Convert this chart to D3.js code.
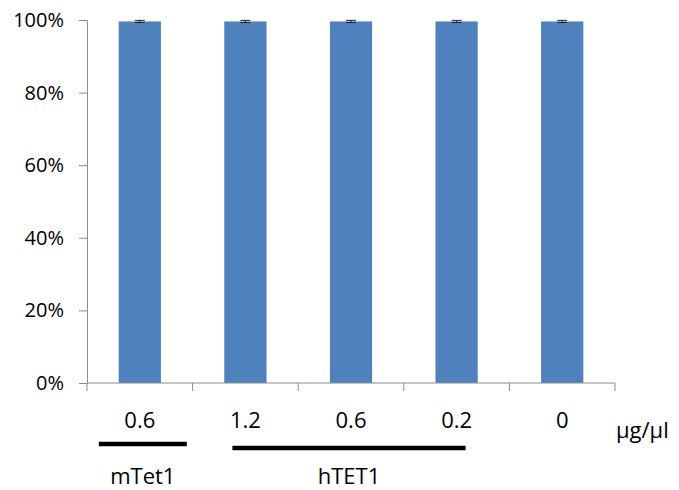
<!DOCTYPE html>
<html>
<head>
<meta charset="utf-8">
<script src="https://cdn.jsdelivr.net/npm/d3@7"></script>
<style>
  body { margin: 0; background: #fff; }
  text { font-family: "Open Sans", "DejaVu Sans", sans-serif; fill: #000; }
</style>
</head>
<body>
<svg id="chart" width="679" height="490"></svg>
<script>
// Dose per group (µg/µl) and the percentage measured for each
const categories = ["0.6", "1.2", "0.6 ", "0.2", "0"];
const values = [99.6, 99.6, 99.6, 99.6, 99.6];
const errors = [0.3, 0.3, 0.3, 0.3, 0.3];
const yTicks = [0, 20, 40, 60, 80, 100];
// Construct groups underlined beneath the axis (first/last category index)
const groups = [
  { name: "mTet1", from: 0, to: 0 },
  { name: "hTET1", from: 1, to: 3 }
];
const unitLabel = "µg/µl";

const svg = d3.select("#chart");
const plotLeft = 87, plotRight = 615, plotTop = 20, plotBottom = 383;

const x = d3.scaleBand().domain(categories).range([plotLeft, plotRight])
  .paddingInner(0.6).paddingOuter(0.3);
const y = d3.scaleLinear().domain([0, 100]).range([plotBottom, plotTop]);

// Bars
svg.append("g").selectAll("rect").data(values).join("rect")
  .attr("x", (d, i) => x(categories[i]))
  .attr("y", d => y(d))
  .attr("width", x.bandwidth())
  .attr("height", d => y(0) - y(d))
  .attr("fill", "#4F81BD");

// Error bars
const eb = svg.append("g").attr("stroke", "#222").attr("stroke-width", 1);
values.forEach((v, i) => {
  const cx = x(categories[i]) + x.bandwidth() / 2;
  eb.append("line").attr("x1", cx).attr("x2", cx).attr("y1", y(v + errors[i])).attr("y2", y(v - errors[i]));
  [v + errors[i], v - errors[i]].forEach(e => {
    eb.append("line").attr("x1", cx - 5).attr("x2", cx + 5).attr("y1", y(e)).attr("y2", y(e));
  });
});

// Y axis
const yAxis = svg.append("g").attr("transform", `translate(${plotLeft},0)`)
  .call(d3.axisLeft(y).tickValues(yTicks).tickSize(8).tickPadding(15).tickFormat(d => d + "%"));
yAxis.selectAll("path, line").attr("stroke", "#8c8c8c");
yAxis.selectAll("text").style("font-size", "20px").attr("fill", "#000");

// X axis: ticks sit on category boundaries
const xAxisG = svg.append("g");
xAxisG.append("line").attr("x1", plotLeft).attr("x2", plotRight).attr("y1", plotBottom).attr("y2", plotBottom)
  .attr("stroke", "#8c8c8c");
const bounds = categories.map((c, i) => i === 0 ? plotLeft : (x(categories[i - 1]) + x.bandwidth() + x(c)) / 2);
bounds.push(plotRight);
xAxisG.selectAll("line.tick").data(bounds).join("line").attr("class", "tick")
  .attr("x1", d => d).attr("x2", d => d).attr("y1", plotBottom).attr("y2", plotBottom + 8)
  .attr("stroke", "#8c8c8c");
xAxisG.selectAll("text").data(categories).join("text")
  .attr("x", d => x(d) + x.bandwidth() / 2)
  .attr("y", 428)
  .attr("text-anchor", "middle")
  .style("font-size", "22px")
  .text(d => d.trim());

svg.append("text").attr("x", 616).attr("y", 438).style("font-size", "22px").text(unitLabel);

// Group underlines and names
groups.forEach((g, k) => {
  const x0 = x(categories[g.from]) + x.bandwidth() / 2;
  const x1 = x(categories[g.to]) + x.bandwidth() / 2;
  const single = g.from === g.to;
  const lx0 = single ? x0 - 41 : x0 - 13;
  const lx1 = single ? x1 + 47 : x1 + 9;
  const ly = k === 0 ? 444 : 448;
  svg.append("line").attr("x1", lx0).attr("x2", lx1).attr("y1", ly).attr("y2", ly)
    .attr("stroke", "#000").attr("stroke-width", 4.5);
  svg.append("text").attr("x", (lx0 + lx1) / 2).attr("y", 484)
    .attr("text-anchor", "middle").style("font-size", "22px").text(g.name);
});
</script>
</body>
</html>
